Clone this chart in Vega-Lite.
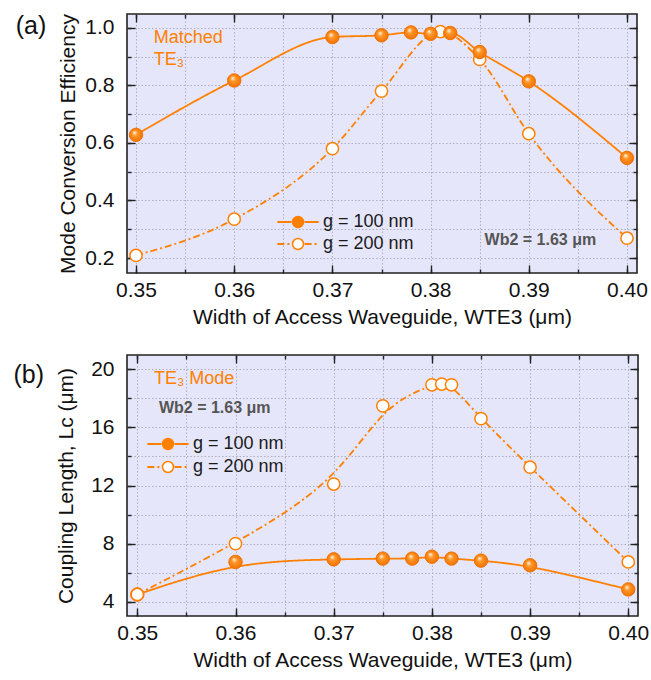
{
  "$schema": "https://vega.github.io/schema/vega-lite/v6.json",
  "padding": {"left": 12, "top": 12, "right": 5, "bottom": 2},
  "background": "white",
  "config": {
    "font": "Liberation Sans",
    "view": {"fill": "#E6E6FA", "stroke": "#222", "strokeWidth": 1.6},
    "axis": {
      "labelFont": "Liberation Sans", "titleFont": "Liberation Sans",
      "labelColor": "#111", "titleColor": "#111",
      "labelFontSize": 21, "titleFontSize": 21, "titleFontWeight": "normal",
      "domain": false, "tickColor": "#222", "tickWidth": 1.4,
      "gridColor": "#AFAFC0", "gridDash": [1.5, 2], "gridWidth": 1,
      "labelFlush": false, "labelOverlap": false, "minExtent": 0
    },
    "axisY": {"minExtent": 0},
    "axisX": {"minExtent": 0},
    "legend": {"labelFont": "Liberation Sans", "labelFontSize": 18, "labelColor": "#1a1a1a", "padding": 0, "offset": 0, "titleFontSize": 0}
  },
  "datasets": {
    "a": [
      {"w": 0.35, "v": 0.628, "g": "g = 100 nm"},
      {"w": 0.36, "v": 0.817, "g": "g = 100 nm"},
      {"w": 0.37, "v": 0.968, "g": "g = 100 nm"},
      {"w": 0.375, "v": 0.974, "g": "g = 100 nm"},
      {"w": 0.378, "v": 0.984, "g": "g = 100 nm"},
      {"w": 0.38, "v": 0.979, "g": "g = 100 nm"},
      {"w": 0.382, "v": 0.982, "g": "g = 100 nm"},
      {"w": 0.385, "v": 0.916, "g": "g = 100 nm"},
      {"w": 0.39, "v": 0.814, "g": "g = 100 nm"},
      {"w": 0.40, "v": 0.548, "g": "g = 100 nm"},
      {"w": 0.35, "v": 0.209, "g": "g = 200 nm"},
      {"w": 0.36, "v": 0.335, "g": "g = 200 nm"},
      {"w": 0.37, "v": 0.580, "g": "g = 200 nm"},
      {"w": 0.375, "v": 0.780, "g": "g = 200 nm"},
      {"w": 0.381, "v": 0.987, "g": "g = 200 nm"},
      {"w": 0.385, "v": 0.890, "g": "g = 200 nm"},
      {"w": 0.39, "v": 0.632, "g": "g = 200 nm"},
      {"w": 0.40, "v": 0.269, "g": "g = 200 nm"}
    ],
    "b": [
      {"w": 0.35, "v": 4.5, "g": "g = 100 nm"},
      {"w": 0.36, "v": 6.74, "g": "g = 100 nm"},
      {"w": 0.37, "v": 6.92, "g": "g = 100 nm"},
      {"w": 0.375, "v": 6.97, "g": "g = 100 nm"},
      {"w": 0.378, "v": 6.97, "g": "g = 100 nm"},
      {"w": 0.38, "v": 7.1, "g": "g = 100 nm"},
      {"w": 0.382, "v": 6.97, "g": "g = 100 nm"},
      {"w": 0.385, "v": 6.83, "g": "g = 100 nm"},
      {"w": 0.39, "v": 6.51, "g": "g = 100 nm"},
      {"w": 0.40, "v": 4.85, "g": "g = 100 nm"},
      {"w": 0.35, "v": 4.5, "g": "g = 200 nm"},
      {"w": 0.36, "v": 8.0, "g": "g = 200 nm"},
      {"w": 0.37, "v": 12.1, "g": "g = 200 nm"},
      {"w": 0.375, "v": 17.48, "g": "g = 200 nm"},
      {"w": 0.38, "v": 18.93, "g": "g = 200 nm"},
      {"w": 0.381, "v": 18.98, "g": "g = 200 nm"},
      {"w": 0.382, "v": 18.93, "g": "g = 200 nm"},
      {"w": 0.385, "v": 16.6, "g": "g = 200 nm"},
      {"w": 0.39, "v": 13.26, "g": "g = 200 nm"},
      {"w": 0.40, "v": 6.74, "g": "g = 200 nm"}
    ]
  },
  "spacing": 25,
  "resolve": {
    "scale": {"x": "independent", "y": "independent", "fill": "independent", "strokeDash": "independent"},
    "legend": {"fill": "independent", "strokeDash": "independent"}
  },
  "vconcat": [
    {
      "width": 510, "height": 259,
      "title": {"text": "(a)", "orient": "left", "anchor": "end", "angle": 0, "align": "right", "baseline": "top", "frame": "group", "offset": -19, "fontSize": 25, "fontWeight": "normal", "font": "Liberation Sans", "color": "#111"},
      "resolve": {"axis": {"x": "independent", "y": "independent"}},
      "layer": [
        {
          "data": {"name": "a"},
          "mark": {"type": "line", "color": "#FF8000", "strokeWidth": 1.8, "interpolate": "monotone"},
          "encoding": {
            "x": {"field": "w", "type": "quantitative", "scale": {"domain": [0.34908, 0.40102], "nice": false, "zero": false},
              "axis": {"orient": "bottom", "values": [0.35, 0.36, 0.37, 0.38, 0.39, 0.40], "format": ".2f", "tickSize": -8, "labelPadding": 14, "grid": false, "title": "Width of Access Waveguide, WTE3 (μm)", "titlePadding": 6}},
            "y": {"field": "v", "type": "quantitative", "scale": {"domain": [0.148, 1.048], "nice": false, "zero": false},
              "axis": {"orient": "left", "values": [0.2, 0.4, 0.6, 0.8, 1.0], "format": ".1f", "tickSize": -8, "labelPadding": 21, "grid": false, "title": "Mode Conversion Efficiency", "titlePadding": 6}},
            "strokeDash": {"field": "g", "type": "nominal", "scale": {"range": [[1, 0], [7, 3, 2, 3]]},
              "legend": {"orient": "none", "legendX": 162, "legendY": 199, "title": null, "symbolType": "M-3.75,0H-1.2M1.2,0H3.75", "symbolSize": 121, "symbolStrokeColor": "#FF8000", "symbolStrokeWidth": 1.8, "labelOffset": 16, "rowPadding": 4}}
          }
        },
        {
          "data": {"name": "a"},
          "transform": [{"filter": {"field": "g", "equal": "g = 200 nm"}}],
          "mark": {"type": "point", "shape": "circle", "filled": true, "size": 150, "stroke": "#FF8000", "strokeWidth": 1.5, "opacity": 1},
          "encoding": {
            "x": {"field": "w", "type": "quantitative", "scale": {"domain": [0.34908, 0.40102], "nice": false, "zero": false},
              "axis": {"orient": "bottom", "values": [0.35, 0.355, 0.36, 0.365, 0.37, 0.375, 0.38, 0.385, 0.39, 0.395, 0.40], "labels": false, "tickSize": -4, "grid": true, "title": null}},
            "y": {"field": "v", "type": "quantitative", "scale": {"domain": [0.148, 1.048], "nice": false, "zero": false},
              "axis": {"orient": "left", "values": [0.2, 0.3, 0.4, 0.5, 0.6, 0.7, 0.8, 0.9, 1.0], "labels": false, "tickSize": -4, "grid": true, "title": null}},
            "fill": {"field": "g", "type": "nominal", "scale": {"domain": ["g = 100 nm", "g = 200 nm"], "range": ["#FF8000", "#FFFFFF"]},
              "legend": {"orient": "none", "legendX": 162, "legendY": 199, "title": null, "symbolType": "circle", "symbolSize": 121, "symbolStrokeColor": "#FF8000", "symbolStrokeWidth": 1.5, "symbolOpacity": 1, "labelOpacity": 0, "labelOffset": 16, "rowPadding": 4}}
          }
        },
        {
          "data": {"name": "a"},
          "transform": [{"filter": {"field": "g", "equal": "g = 100 nm"}}],
          "mark": {"type": "point", "shape": "circle", "filled": true, "size": 180, "stroke": "#F07000", "strokeWidth": 1, "opacity": 1,
            "fill": {"gradient": "radial", "x1": 0.38, "y1": 0.32, "r1": 0.02, "x2": 0.5, "y2": 0.5, "r2": 0.55,
              "stops": [{"offset": 0, "color": "#FFF1DC"}, {"offset": 0.35, "color": "#FF9526"}, {"offset": 1, "color": "#EE6F00"}]}},
          "encoding": {
            "x": {"field": "w", "type": "quantitative", "scale": {"domain": [0.34908, 0.40102], "nice": false, "zero": false},
              "axis": {"orient": "top", "values": [0.35, 0.36, 0.37, 0.38, 0.39, 0.40], "labels": false, "tickSize": -8, "grid": false, "title": null}},
            "y": {"field": "v", "type": "quantitative", "scale": {"domain": [0.148, 1.048], "nice": false, "zero": false},
              "axis": {"orient": "right", "values": [0.2, 0.4, 0.6, 0.8, 1.0], "labels": false, "tickSize": -8, "grid": false, "title": null}}
          }
        },
        {
          "data": {"values": [{"w": 0.3518, "v": 0.948, "t": "Matched"}, {"w": 0.3518, "v": 0.870, "t": "TE₃"}]},
          "mark": {"type": "text", "align": "left", "baseline": "alphabetic", "fontSize": 18, "color": "#FF8000", "font": "Liberation Sans"},
          "encoding": {
            "x": {"field": "w", "type": "quantitative", "scale": {"domain": [0.34908, 0.40102], "nice": false, "zero": false},
              "axis": {"orient": "top", "values": [0.35, 0.355, 0.36, 0.365, 0.37, 0.375, 0.38, 0.385, 0.39, 0.395, 0.40], "labels": false, "tickSize": -4, "grid": false, "title": null}},
            "y": {"field": "v", "type": "quantitative", "scale": {"domain": [0.148, 1.048], "nice": false, "zero": false},
              "axis": {"orient": "right", "values": [0.2, 0.3, 0.4, 0.5, 0.6, 0.7, 0.8, 0.9, 1.0], "labels": false, "tickSize": -4, "grid": false, "title": null}},
            "text": {"field": "t"}
          }
        },
        {
          "data": {"values": [{"w": 0.3855, "v": 0.245, "t": "Wb2 = 1.63 μm"}]},
          "mark": {"type": "text", "align": "left", "baseline": "alphabetic", "fontSize": 16, "fontWeight": "bold", "color": "#555555", "font": "Liberation Sans"},
          "encoding": {
            "x": {"field": "w", "type": "quantitative", "scale": {"domain": [0.34908, 0.40102], "nice": false, "zero": false}, "axis": null},
            "y": {"field": "v", "type": "quantitative", "scale": {"domain": [0.148, 1.048], "nice": false, "zero": false}, "axis": null},
            "text": {"field": "t"}
          }
        }
      ]
    },
    {
      "width": 511, "height": 261,
      "title": {"text": "(b)", "orient": "left", "anchor": "end", "angle": 0, "align": "right", "baseline": "top", "frame": "group", "offset": -19, "dy": 8, "fontSize": 25, "fontWeight": "normal", "font": "Liberation Sans", "color": "#111"},
      "resolve": {"axis": {"x": "independent", "y": "independent"}},
      "layer": [
        {
          "data": {"name": "b"},
          "mark": {"type": "line", "color": "#FF8000", "strokeWidth": 1.8, "interpolate": "basis"},
          "encoding": {
            "x": {"field": "w", "type": "quantitative", "scale": {"domain": [0.34895, 0.40099], "nice": false, "zero": false},
              "axis": {"orient": "bottom", "values": [0.35, 0.36, 0.37, 0.38, 0.39, 0.40], "format": ".2f", "tickSize": -8, "labelPadding": 14, "grid": false, "title": "Width of Access Waveguide, WTE3 (μm)", "titlePadding": 6}},
            "y": {"field": "v", "type": "quantitative", "scale": {"domain": [3.02, 20.98], "nice": false, "zero": false},
              "axis": {"orient": "left", "values": [4, 8, 12, 16, 20], "format": "d", "tickSize": -8, "labelPadding": 21, "grid": false, "title": "Coupling Length, Lc (μm)", "titlePadding": 14}},
            "strokeDash": {"field": "g", "type": "nominal", "scale": {"range": [[1, 0], [7, 3, 2, 3]]},
              "legend": {"orient": "none", "legendX": 32, "legendY": 80, "title": null, "symbolType": "M-3.75,0H-1.2M1.2,0H3.75", "symbolSize": 121, "symbolStrokeColor": "#FF8000", "symbolStrokeWidth": 1.8, "labelOffset": 16, "rowPadding": 5}}
          }
        },
        {
          "data": {"name": "b"},
          "transform": [{"filter": {"field": "g", "equal": "g = 100 nm"}}],
          "mark": {"type": "point", "shape": "circle", "filled": true, "size": 180, "stroke": "#F07000", "strokeWidth": 1, "opacity": 1,
            "fill": {"gradient": "radial", "x1": 0.38, "y1": 0.32, "r1": 0.02, "x2": 0.5, "y2": 0.5, "r2": 0.55,
              "stops": [{"offset": 0, "color": "#FFF1DC"}, {"offset": 0.35, "color": "#FF9526"}, {"offset": 1, "color": "#EE6F00"}]}},
          "encoding": {
            "x": {"field": "w", "type": "quantitative", "scale": {"domain": [0.34895, 0.40099], "nice": false, "zero": false},
              "axis": {"orient": "bottom", "values": [0.35, 0.355, 0.36, 0.365, 0.37, 0.375, 0.38, 0.385, 0.39, 0.395, 0.40], "labels": false, "tickSize": -4, "grid": true, "title": null}},
            "y": {"field": "v", "type": "quantitative", "scale": {"domain": [3.02, 20.98], "nice": false, "zero": false},
              "axis": {"orient": "left", "values": [4, 6, 8, 10, 12, 14, 16, 18, 20], "labels": false, "tickSize": -4, "grid": true, "title": null}}
          }
        },
        {
          "data": {"name": "b"},
          "transform": [{"filter": {"field": "g", "equal": "g = 200 nm"}}],
          "mark": {"type": "point", "shape": "circle", "filled": true, "size": 150, "stroke": "#FF8000", "strokeWidth": 1.5, "opacity": 1},
          "encoding": {
            "x": {"field": "w", "type": "quantitative", "scale": {"domain": [0.34895, 0.40099], "nice": false, "zero": false},
              "axis": {"orient": "top", "values": [0.35, 0.36, 0.37, 0.38, 0.39, 0.40], "labels": false, "tickSize": -8, "grid": false, "title": null}},
            "y": {"field": "v", "type": "quantitative", "scale": {"domain": [3.02, 20.98], "nice": false, "zero": false},
              "axis": {"orient": "right", "values": [4, 8, 12, 16, 20], "labels": false, "tickSize": -8, "grid": false, "title": null}},
            "fill": {"field": "g", "type": "nominal", "scale": {"domain": ["g = 100 nm", "g = 200 nm"], "range": ["#FF8000", "#FFFFFF"]},
              "legend": {"orient": "none", "legendX": 32, "legendY": 80, "title": null, "symbolType": "circle", "symbolSize": 121, "symbolStrokeColor": "#FF8000", "symbolStrokeWidth": 1.5, "symbolOpacity": 1, "labelOpacity": 0, "labelOffset": 16, "rowPadding": 5}}
          }
        },
        {
          "data": {"values": [{"w": 0.3517, "v": 18.97, "t": "TE₃ Mode"}]},
          "mark": {"type": "text", "align": "left", "baseline": "alphabetic", "fontSize": 18, "color": "#FF8000", "font": "Liberation Sans"},
          "encoding": {
            "x": {"field": "w", "type": "quantitative", "scale": {"domain": [0.34895, 0.40099], "nice": false, "zero": false},
              "axis": {"orient": "top", "values": [0.35, 0.355, 0.36, 0.365, 0.37, 0.375, 0.38, 0.385, 0.39, 0.395, 0.40], "labels": false, "tickSize": -4, "grid": false, "title": null}},
            "y": {"field": "v", "type": "quantitative", "scale": {"domain": [3.02, 20.98], "nice": false, "zero": false},
              "axis": {"orient": "right", "values": [4, 6, 8, 10, 12, 14, 16, 18, 20], "labels": false, "tickSize": -4, "grid": false, "title": null}},
            "text": {"field": "t"}
          }
        },
        {
          "data": {"values": [{"w": 0.3522, "v": 16.98, "t": "Wb2 = 1.63 μm"}]},
          "mark": {"type": "text", "align": "left", "baseline": "alphabetic", "fontSize": 16, "fontWeight": "bold", "color": "#555555", "font": "Liberation Sans"},
          "encoding": {
            "x": {"field": "w", "type": "quantitative", "scale": {"domain": [0.34895, 0.40099], "nice": false, "zero": false}, "axis": null},
            "y": {"field": "v", "type": "quantitative", "scale": {"domain": [3.02, 20.98], "nice": false, "zero": false}, "axis": null},
            "text": {"field": "t"}
          }
        }
      ]
    }
  ]
}
